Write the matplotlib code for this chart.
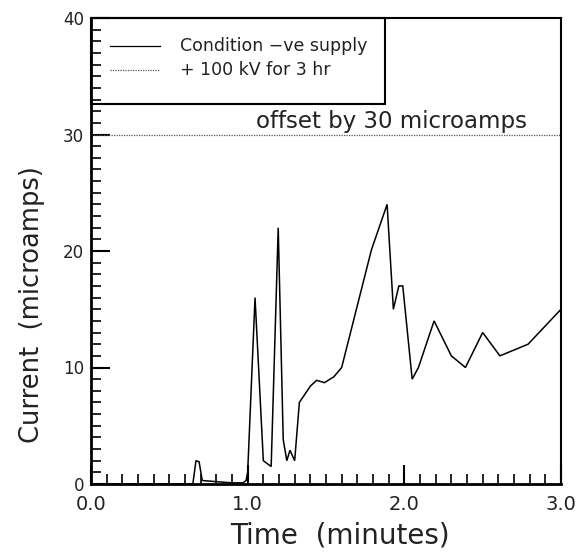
import matplotlib
matplotlib.use("Agg")
import matplotlib.pyplot as plt
from matplotlib.patches import Rectangle
from matplotlib.ticker import MultipleLocator, FormatStrFormatter

# Conditioning current on the negative supply (microamps vs minutes)
time_cond = [0.00, 0.30, 0.60, 0.65, 0.67, 0.69, 0.71, 0.80, 0.90, 0.97, 0.99,
             1.00, 1.047, 1.10, 1.15, 1.195, 1.227, 1.25, 1.27, 1.30, 1.33,
             1.40, 1.44, 1.49, 1.55, 1.60, 1.79, 1.89, 1.93, 1.965, 1.99,
             2.05, 2.09, 2.19, 2.30, 2.39, 2.50, 2.61, 2.79, 3.00]
current_cond = [0.0, 0.0, 0.0, 0.0, 2.0, 1.9, 0.3, 0.2, 0.1, 0.1, 0.3,
                1.0, 16.0, 2.0, 1.5, 22.0, 3.8, 2.0, 2.9, 2.0, 7.0,
                8.4, 8.9, 8.7, 9.2, 10.0, 20.1, 24.0, 15.0, 17.0, 17.0,
                9.0, 10.0, 14.0, 11.0, 10.0, 13.0, 11.0, 12.0, 15.0]

# Current after +100 kV for 3 hr, shifted up by a fixed offset
time_hv = [0.0, 1.0, 2.0, 3.0]
current_hv = [0.0, 0.0, 0.0, 0.0]
offset = 30

legend_labels = ["Condition \u2212ve supply", "+ 100 kV for 3 hr"]
offset_label = "offset by 30 microamps"

plt.rcParams["font.family"] = ["DejaVu Sans"]
text_color = "#222222"

fig = plt.figure(figsize=(5.78, 5.52), dpi=100)
ax = fig.add_axes([91 / 578, 68 / 552, 470 / 578, 466 / 552])

ax.plot(time_cond, current_cond, color="black", lw=1.1, solid_joinstyle="miter")
ax.plot(time_hv, [c + offset for c in current_hv], color="#555555",
        lw=0.9, linestyle=(0, (1, 1)))

ax.set_xlim(0, 3)
ax.set_ylim(0, 40)
ax.xaxis.set_major_locator(MultipleLocator(1.0))
ax.xaxis.set_minor_locator(MultipleLocator(0.1))
ax.yaxis.set_major_locator(MultipleLocator(10))
ax.yaxis.set_minor_locator(MultipleLocator(1))
ax.xaxis.set_major_formatter(FormatStrFormatter("%.1f"))

ax.tick_params(axis="both", which="both", direction="in", top=False, right=False,
               color="black", labelcolor=text_color)
ax.tick_params(axis="x", which="major", length=14, width=1.5, labelsize=14, pad=8)
ax.tick_params(axis="x", which="minor", length=7, width=1.2)
ax.tick_params(axis="y", which="major", length=14, width=1.5, labelsize=12, pad=5)
ax.tick_params(axis="y", which="minor", length=7, width=1.2)

for side in ["left", "bottom"]:
    ax.spines[side].set_linewidth(2.0)
for side in ["top", "right"]:
    ax.spines[side].set_linewidth(1.5)

ax.set_xlabel("Time  (minutes)", fontsize=20, color=text_color, va="center")
ax.xaxis.set_label_coords(0.53, -0.11)
ax.set_ylabel("Current  (microamps)", fontsize=18.5, color=text_color)
ax.yaxis.set_label_coords(-0.098, 0.384)

# Legend box drawn in axes fraction
box_w, box_h = 294 / 470, 86 / 466
ax.add_patch(Rectangle((0, 1 - box_h), box_w, box_h, transform=ax.transAxes,
                       fill=False, edgecolor="black", lw=1.5, clip_on=False,
                       zorder=5))
ax.plot([0.040, 0.147], [0.940, 0.940], transform=ax.transAxes, color="black",
        lw=0.9)
ax.plot([0.040, 0.147], [0.888, 0.888], transform=ax.transAxes, color="#555555",
        lw=0.9, linestyle=(0, (1, 1)))
ax.text(0.189, 0.940, legend_labels[0], transform=ax.transAxes, fontsize=12.5,
        va="center", ha="left", color=text_color)
ax.text(0.189, 0.888, legend_labels[1], transform=ax.transAxes, fontsize=12.5,
        va="center", ha="left", color=text_color)

ax.text(1.92, 31.1, offset_label, fontsize=16.5, ha="center", va="center",
        color=text_color)

fig.savefig("out.png", dpi=100, facecolor="white")
